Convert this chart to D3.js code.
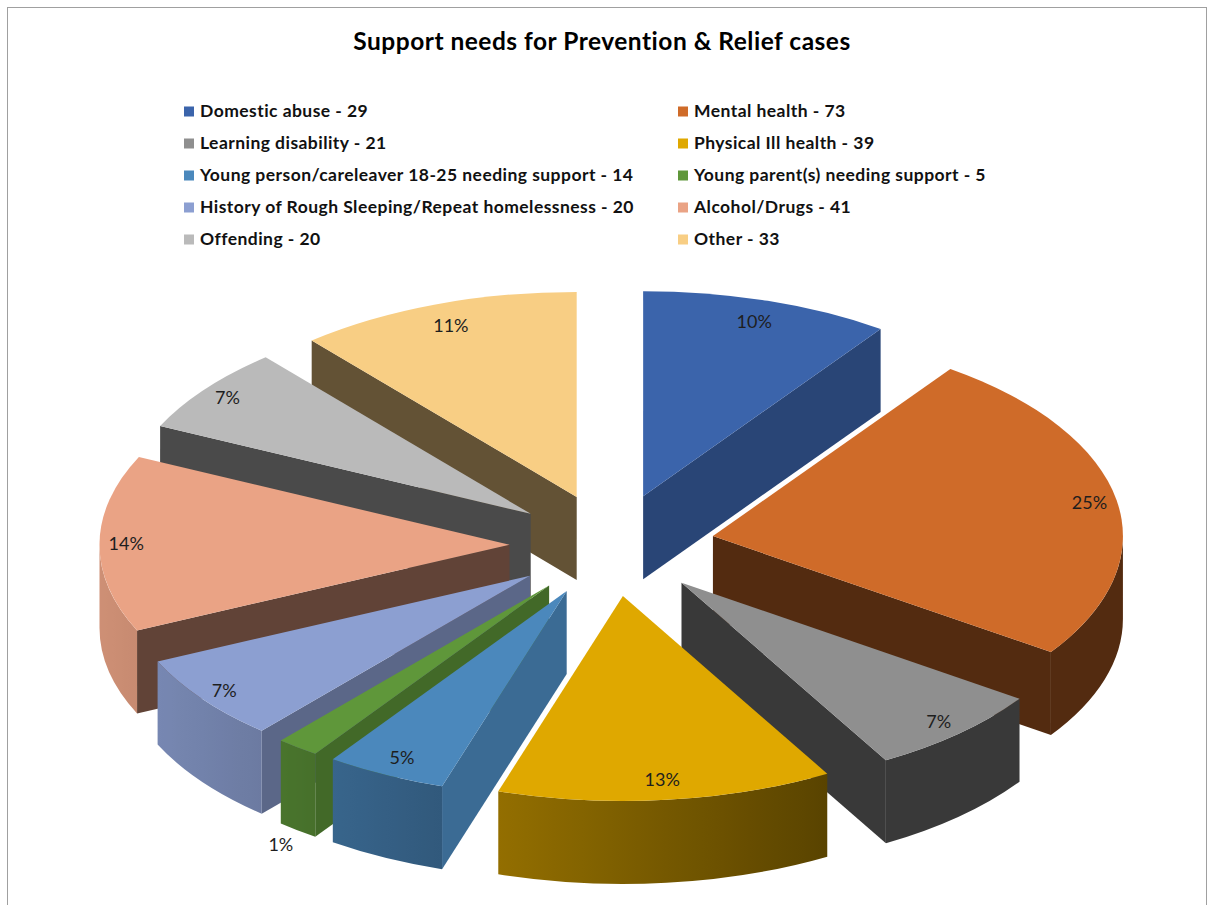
<!DOCTYPE html>
<html>
<head>
<meta charset="utf-8">
<script src="https://cdn.jsdelivr.net/npm/d3@7"></script>
<style>
  html, body { margin: 0; padding: 0; background: #ffffff; }
  svg { display: block; font-family: Lato, "Open Sans", "Liberation Sans", sans-serif; }
</style>
</head>
<body>
<svg id="chart" width="1208" height="905"></svg>
<script>
// ---- data ----
const chartTitle = "Support needs for Prevention & Relief cases";
const categories = [
  "Domestic abuse",
  "Mental health",
  "Learning disability",
  "Physical Ill health",
  "Young person/careleaver 18-25 needing support",
  "Young parent(s) needing support",
  "History of Rough Sleeping/Repeat homelessness",
  "Alcohol/Drugs",
  "Offending",
  "Other"
];
const counts = [29, 73, 21, 39, 14, 5, 20, 41, 20, 33];
const sliceColors = [
  "#3B64AB", "#CF6B29", "#8F8F8F", "#DFA800", "#4B88BC",
  "#5F973A", "#8C9FD1", "#EAA385", "#BABABA", "#F8CE84"
];

// ---- layout ----
const W = 1208, H = 905;
const cx = 612, cy = 545;       // centre of the tilted pie
const rx = 410, ry = 205;       // ellipse radii of the top face
const depth = 83;               // thickness of the pie
const explode = 0.25;           // radial offset of each slice

const svg = d3.select("#chart");

// outer frame
svg.append("rect")
  .attr("x", 7.5).attr("y", 7.5)
  .attr("width", 1199).attr("height", 920)
  .attr("fill", "#ffffff").attr("stroke", "#a0a0a0").attr("stroke-width", 1);

// title
svg.append("text")
  .attr("x", 602).attr("y", 50)
  .attr("text-anchor", "middle")
  .attr("font-size", 24.5).attr("font-weight", 700)
  .attr("letter-spacing", 0.5)
  .attr("fill", "#000000")
  .text(chartTitle);

// legend: two columns, filled row by row
const legend = svg.append("g");
const legendCol = [184, 678];
categories.forEach((c, i) => {
  const col = i % 2, row = Math.floor(i / 2);
  const y = 117 + row * 32;
  const g = legend.append("g");
  g.append("rect")
    .attr("x", legendCol[col]).attr("y", y - 10.5)
    .attr("width", 10).attr("height", 10)
    .attr("fill", sliceColors[i]);
  g.append("text")
    .attr("x", legendCol[col] + 16).attr("y", y)
    .attr("font-size", 17.5).attr("font-weight", 700)
    .attr("letter-spacing", 0.45)
    .attr("fill", "#111111")
    .text(`${c} - ${counts[i]}`);
});

// percentage labels rounded with largest remainder so they add up to 100
const total = d3.sum(counts);
const raw = counts.map(v => v / total * 100);
const pct = raw.map(Math.floor);
let missing = 100 - d3.sum(pct);
d3.range(counts.length)
  .sort((a, b) => (raw[b] - pct[b]) - (raw[a] - pct[a]))
  .slice(0, missing)
  .forEach(i => pct[i] += 1);

// ---- pie geometry ----
const pie = d3.pie().sort(null).value(d => d)
  .startAngle(0).endAngle(2 * Math.PI);
const arcs = pie(counts).map((d, i) => {
  const m = (d.startAngle + d.endAngle) / 2;
  return {
    i, a0: d.startAngle, a1: d.endAngle, mid: m,
    ax: cx + explode * rx * Math.sin(m),
    ay: cy - explode * ry * Math.cos(m)
  };
});

const rimPt = (s, a, z = 0) => [s.ax + rx * Math.sin(a), s.ay - ry * Math.cos(a) + z];
const fmt = p => p[0].toFixed(2) + "," + p[1].toFixed(2);
const shade = (c, f) => {
  const k = d3.rgb(c);
  return d3.rgb(k.r * f, k.g * f, k.b * f).formatHex();
};
// light falls on the rim from the left, on the cut faces from the right
const rimShade = a => Math.max(0.40, 0.56 - 0.32 * Math.sin(a));
const cutShade = u => Math.max(0.40, 0.40 + 0.7 * (u - 0.4));

const defs = svg.append("defs");
const pieG = svg.append("g");

// back slices first
const order = arcs.slice().sort((p, q) => (-Math.cos(p.mid)) - (-Math.cos(q.mid)));

order.forEach(s => {
  const g = pieG.append("g");
  const col = sliceColors[s.i];

  // cut face at the start angle
  if (Math.sin(s.a0) < -1e-6) {
    const p = rimPt(s, s.a0), pb = rimPt(s, s.a0, depth);
    g.append("path")
      .attr("d", `M${s.ax},${s.ay}L${fmt(p)}L${fmt(pb)}L${s.ax},${s.ay + depth}Z`)
      .attr("fill", shade(col, cutShade(-Math.cos(s.a0))));
  }
  // cut face at the end angle
  if (Math.sin(s.a1) > 1e-6) {
    const p = rimPt(s, s.a1), pb = rimPt(s, s.a1, depth);
    g.append("path")
      .attr("d", `M${s.ax},${s.ay}L${fmt(p)}L${fmt(pb)}L${s.ax},${s.ay + depth}Z`)
      .attr("fill", shade(col, cutShade(Math.cos(s.a1))));
  }
  // curved outer wall on the near half
  const b0 = Math.max(s.a0, Math.PI / 2), b1 = Math.min(s.a1, 3 * Math.PI / 2);
  if (b1 > b0 + 1e-6) {
    const t0 = rimPt(s, b0), t1 = rimPt(s, b1);
    const d0 = rimPt(s, b0, depth), d1 = rimPt(s, b1, depth);
    const large = (b1 - b0) > Math.PI ? 1 : 0;
    const gid = "wall" + s.i;
    const xl = t1[0], xr = t0[0];
    const grad = defs.append("linearGradient")
      .attr("id", gid).attr("gradientUnits", "userSpaceOnUse")
      .attr("x1", xl).attr("y1", 0).attr("x2", xr).attr("y2", 0);
    d3.range(13).forEach(j => {
      const a = b1 - (b1 - b0) * j / 12;
      const x = rimPt(s, a)[0];
      grad.append("stop")
        .attr("offset", xr > xl ? (x - xl) / (xr - xl) : 0)
        .attr("stop-color", shade(col, rimShade(a)));
    });
    g.append("path")
      .attr("d", `M${fmt(t0)}A${rx},${ry} 0 ${large} 1 ${fmt(t1)}L${fmt(d1)}A${rx},${ry} 0 ${large} 0 ${fmt(d0)}Z`)
      .attr("fill", `url(#${gid})`);
  }
  // top face
  const p0 = rimPt(s, s.a0), p1 = rimPt(s, s.a1);
  const largeTop = (s.a1 - s.a0) > Math.PI ? 1 : 0;
  g.append("path")
    .attr("d", `M${s.ax},${s.ay}L${fmt(p0)}A${rx},${ry} 0 ${largeTop} 1 ${fmt(p1)}Z`)
    .attr("fill", col);
});

// ---- data labels ----
const labelG = svg.append("g");
arcs.forEach(s => {
  const t = labelG.append("text")
    .attr("text-anchor", "middle").attr("dy", "0.35em")
    .attr("font-size", 18).attr("fill", "#1e1e1e")
    .text(pct[s.i] + "%");
  const hw = t.node().getComputedTextLength() / 2, hh = 8;
  const frac = counts[s.i] / total;
  const rp = rimPt(s, s.mid);
  let dx = s.ax - rp[0], dy = s.ay - rp[1];
  const len = Math.hypot(dx, dy);
  dx /= len; dy /= len;
  let x, y;
  if (frac < 0.03) {
    // too thin: label sits outside, below the wall
    x = rp[0] - dx * 20; y = rp[1] + depth - dy * 20 + 3;
  } else {
    const d = 9 + hw * Math.abs(dx) + hh * Math.abs(dy);
    x = rp[0] + dx * d; y = rp[1] + dy * d;
  }
  t.attr("x", x).attr("y", y);
});
</script>
</body>
</html>
